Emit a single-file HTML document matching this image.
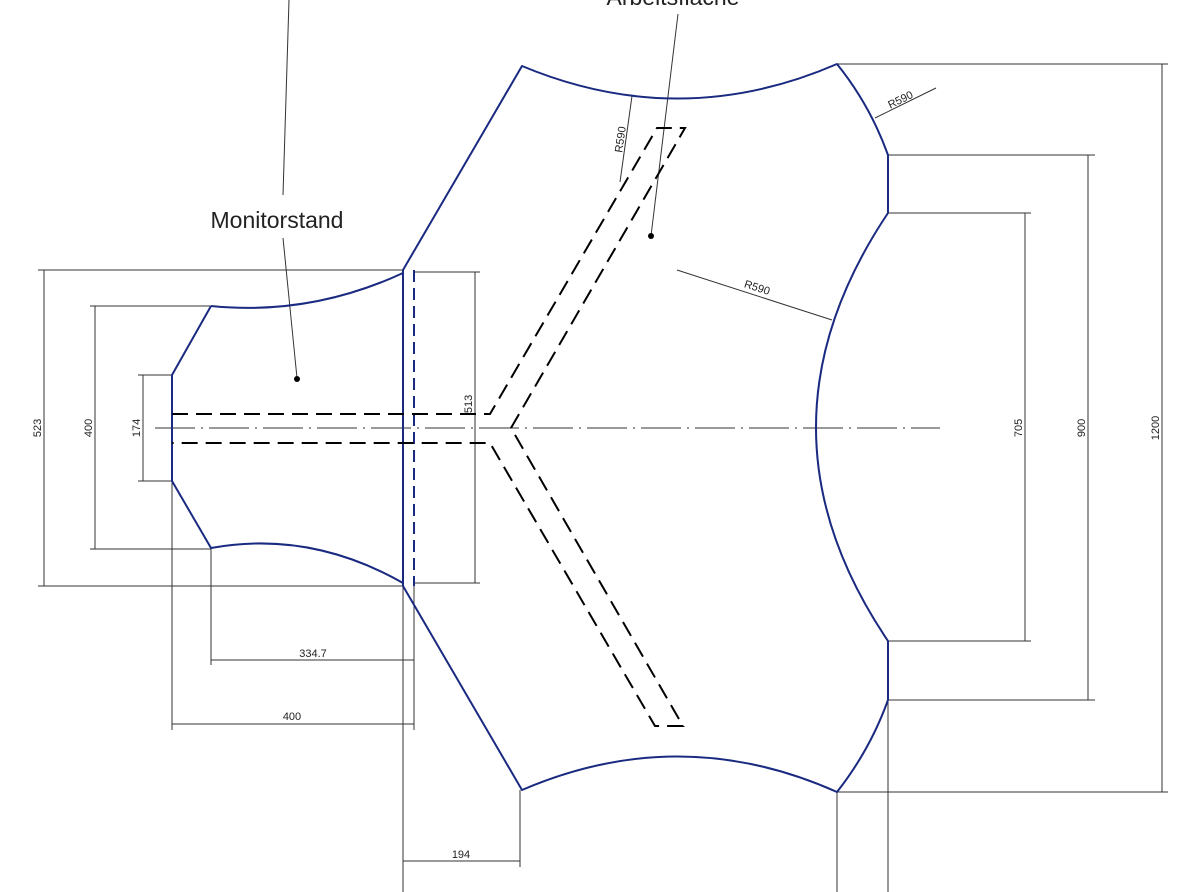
<!DOCTYPE html>
<html><head><meta charset="utf-8"><style>
html,body{margin:0;padding:0;background:#fff;width:1200px;height:892px;overflow:hidden}
svg text{font-family:"Liberation Sans",sans-serif;fill:#222}
</style></head><body>
<svg width="1200" height="892" viewBox="0 0 1200 892" xmlns="http://www.w3.org/2000/svg">
<g stroke="#333" stroke-width="1" fill="none">
<line x1="38" y1="270" x2="403" y2="270"/><line x1="38" y1="586" x2="403" y2="586"/>
<line x1="44" y1="270" x2="44" y2="586"/>
<line x1="90" y1="306" x2="211" y2="306"/><line x1="90" y1="549" x2="211" y2="549"/>
<line x1="95" y1="306" x2="95" y2="549"/>
<line x1="138" y1="375" x2="172" y2="375"/><line x1="138" y1="481" x2="172" y2="481"/>
<line x1="143" y1="375" x2="143" y2="481"/>
<line x1="414" y1="272" x2="480" y2="272"/><line x1="414" y1="583" x2="480" y2="583"/>
<line x1="475" y1="272" x2="475" y2="583"/>
<line x1="211" y1="549" x2="211" y2="665"/><line x1="414" y1="586" x2="414" y2="730"/>
<line x1="211" y1="660" x2="414" y2="660"/>
<line x1="172" y1="481" x2="172" y2="730"/>
<line x1="172" y1="724" x2="414" y2="724"/>
<line x1="403" y1="586" x2="403" y2="892"/><line x1="520" y1="790" x2="520" y2="867"/>
<line x1="403" y1="861" x2="520" y2="861"/>
<line x1="837" y1="792" x2="837" y2="892"/><line x1="888" y1="700" x2="888" y2="892"/>
<line x1="888" y1="213" x2="1031" y2="213"/><line x1="888" y1="641" x2="1031" y2="641"/>
<line x1="1025" y1="213" x2="1025" y2="641"/>
<line x1="888" y1="155" x2="1095" y2="155"/><line x1="888" y1="700" x2="1095" y2="700"/>
<line x1="1088" y1="155" x2="1088" y2="700"/>
<line x1="837" y1="64" x2="1168" y2="64"/><line x1="837" y1="792" x2="1168" y2="792"/>
<line x1="1162" y1="64" x2="1162" y2="792"/>
<line x1="632" y1="96" x2="620" y2="182"/>
<line x1="875" y1="118" x2="936" y2="88"/>
<line x1="677" y1="270" x2="832" y2="320"/>
<line x1="289" y1="0" x2="283" y2="195"/>
<line x1="283" y1="238" x2="297" y2="378"/>
<line x1="678" y1="14" x2="651" y2="236"/>
</g>
<circle cx="297" cy="379" r="3" fill="#000"/>
<circle cx="651" cy="236" r="3" fill="#000"/>
<line x1="155" y1="428" x2="940" y2="428" stroke="#333" stroke-width="1" stroke-dasharray="40,6,2,6"/>
<g stroke="#1a2a80" stroke-width="2" fill="none" stroke-linejoin="round">
<path d="M522,66 Q680,132 837,64 Q870,105 888,155 L888,213 Q744,428 888,641 L888,700 Q870,750 837,792 Q680,722 522,790 L403,586 L403,270 Z"/>
<path d="M211,306 Q310,316 403,273 M403,583 Q310,530 211,548 L172,481 L172,375 L211,306"/>
<line x1="414" y1="270" x2="414" y2="586" stroke-dasharray="12,6"/>
</g>
<g stroke="#000" stroke-width="2" fill="none" stroke-dasharray="16,8">
<path d="M172,414 L490,414 L657,128 L685,128 L511,428 L683,726 L655,726 L490,443 L172,443"/>
</g>
<text x="277" y="228" font-size="23" text-anchor="middle">Monitorstand</text>
<text x="673" y="5" font-size="23" text-anchor="middle">Arbeitsfläche</text>
<g font-size="11">
<text transform="translate(41,428) rotate(-90)" text-anchor="middle">523</text>
<text transform="translate(92,428) rotate(-90)" text-anchor="middle">400</text>
<text transform="translate(140,428) rotate(-90)" text-anchor="middle">174</text>
<text transform="translate(472,404) rotate(-90)" text-anchor="middle">513</text>
<text x="313" y="657" text-anchor="middle">334.7</text>
<text x="292" y="720" text-anchor="middle">400</text>
<text x="461" y="858" text-anchor="middle">194</text>
<text transform="translate(1022,428) rotate(-90)" text-anchor="middle">705</text>
<text transform="translate(1085,428) rotate(-90)" text-anchor="middle">900</text>
<text transform="translate(1159,428) rotate(-90)" text-anchor="middle">1200</text>
<text transform="translate(624,140) rotate(-82)" text-anchor="middle">R590</text>
<text transform="translate(902,103) rotate(-26)" text-anchor="middle">R590</text>
<text transform="translate(756,291) rotate(18)" text-anchor="middle">R590</text>
</g>
</svg>
</body></html>
